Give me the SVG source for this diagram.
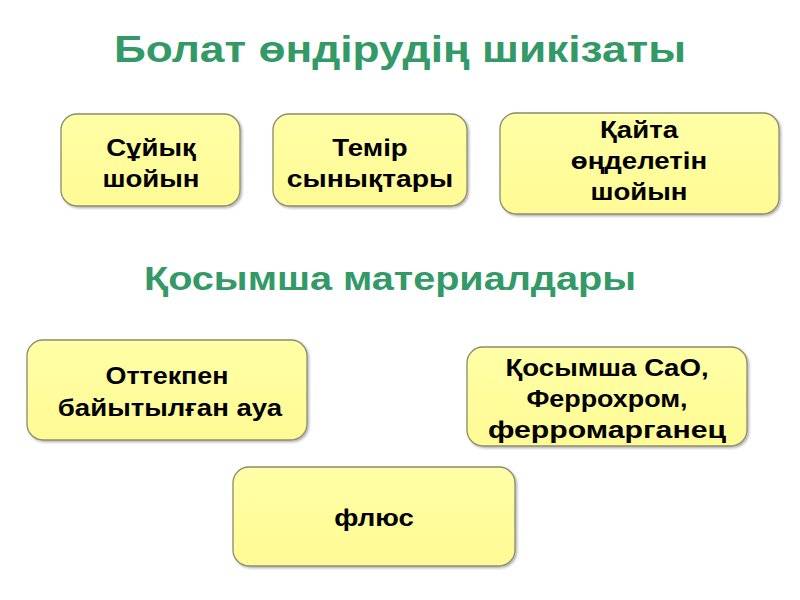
<svg xmlns="http://www.w3.org/2000/svg" width="800" height="600" viewBox="0 0 800 600">
<defs>
<linearGradient id="g" x1="0" y1="0" x2="0" y2="1">
<stop offset="0" stop-color="#FFFFA6"/>
<stop offset="1" stop-color="#FFFA94"/>
</linearGradient>
<filter id="sh" x="-10%" y="-10%" width="130%" height="130%">
<feDropShadow dx="1.5" dy="1.5" stdDeviation="1.2" flood-color="#000" flood-opacity="0.3"/>
</filter>
</defs>
<style>
.box{fill:url(#g);stroke:#8C8C6E;stroke-width:1.3;filter:url(#sh)}
.t{font-family:"Liberation Sans",Arial,sans-serif;font-weight:bold;font-size:24px;fill:#000;text-anchor:middle}
.h{font-family:"Liberation Sans",Arial,sans-serif;font-weight:bold;fill:#339966;text-anchor:middle}
</style>
<rect width="800" height="600" fill="#fff"/>
<text class="h" font-size="36" transform="translate(400,62) scale(1.23,1)">Болат өндірудің шикізаты</text>
<text class="h" font-size="33" transform="translate(390,290) scale(1.2,1)">Қосымша материалдары</text>
<g id="n1">
<rect class="box" x="61" y="114" width="179" height="92" rx="16"/>
<text class="t" transform="translate(151,156) scale(1.15,1)">Сұйық</text>
<text class="t" transform="translate(151,187) scale(1.15,1)">шойын</text>
</g>
<g id="n2">
<rect class="box" x="273" y="114" width="194" height="92" rx="16"/>
<text class="t" transform="translate(370,156) scale(1.15,1)">Темір</text>
<text class="t" transform="translate(370,187) scale(1.18,1)">сынықтары</text>
</g>
<g id="n3">
<rect class="box" x="500" y="113" width="279" height="101" rx="16"/>
<text class="t" transform="translate(639,138) scale(1.15,1)">Қайта</text>
<text class="t" transform="translate(639,169) scale(1.15,1)">өңделетін</text>
<text class="t" transform="translate(639,200) scale(1.15,1)">шойын</text>
</g>
<g id="n4">
<rect class="box" x="27" y="340" width="280" height="100" rx="16"/>
<text class="t" transform="translate(167,384) scale(1.12,1)">Оттекпен</text>
<text class="t" transform="translate(170,416) scale(1.15,1)">байытылған ауа</text>
</g>
<g id="n5">
<rect class="box" x="467" y="347" width="280" height="99" rx="16"/>
<text class="t" transform="translate(607,376) scale(1.15,1)">Қосымша CaO,</text>
<text class="t" transform="translate(607,407) scale(1.12,1)">Феррохром,</text>
<text class="t" transform="translate(607,438) scale(1.26,1)">ферромарганец</text>
</g>
<g id="n6">
<rect class="box" x="233" y="467" width="282" height="99" rx="16"/>
<text class="t" transform="translate(374,526) scale(1.15,1)">флюс</text>
</g>
<g id="connectors"/>
</svg>
